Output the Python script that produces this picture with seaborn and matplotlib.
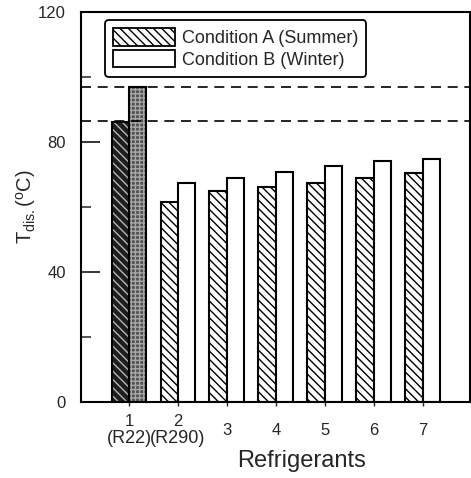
import matplotlib
matplotlib.use("Agg")
import matplotlib.pyplot as plt
import matplotlib.transforms as mtransforms
import seaborn as sns
import pandas as pd
from matplotlib.patches import Patch, Rectangle
from matplotlib.transforms import ScaledTranslation
from matplotlib.ticker import MultipleLocator

# ---- data ----
refrigerants = ["1", "2", "3", "4", "5", "6", "7"]
summer = [86.2, 61.6, 65.0, 66.0, 67.3, 69.0, 70.3]   # Condition A
winter = [96.9, 67.3, 68.9, 70.8, 72.6, 74.2, 74.8]   # Condition B
series_names = ["Condition A (Summer)", "Condition B (Winter)"]
ref_lines = [97.0, 86.3]
sub_labels = ["(R22)", "(R290)"]

df = pd.DataFrame({
    "Refrigerant": refrigerants * 2,
    "Tdis": summer + winter,
    "Condition": [series_names[0]] * len(refrigerants) + [series_names[1]] * len(refrigerants),
})

sns.set_theme(style="white")
plt.rcParams["font.family"] = ["Liberation Sans", "DejaVu Sans"]
plt.rcParams["hatch.linewidth"] = 1.0
plt.rcParams["mathtext.fontset"] = "custom"
plt.rcParams["mathtext.rm"] = "Liberation Sans"

fig = plt.figure(figsize=(4.71, 4.78), dpi=100)
ax = fig.add_axes([0.172, 0.159, 0.826, 0.816])

sns.barplot(data=df, x="Refrigerant", y="Tdis", hue="Condition",
            order=refrigerants, hue_order=series_names,
            width=0.71, gap=0, ax=ax, legend=False,
            edgecolor="black", linewidth=1.5)

cA, cB = ax.containers[0], ax.containers[1]
for p in cA.patches:
    p.set_facecolor("white")
    p.set_hatch("\\\\\\\\")
    p.set_edgecolor("black")
for p in cB.patches:
    p.set_facecolor("white")
    p.set_edgecolor("black")

# first group (reference refrigerant R22) drawn dark
for p, fc, hc, h in [(cA.patches[0], "#1e1e1e", "#b5b5b5", "\\\\\\\\"),
                     (cB.patches[0], "#505050", "#a8a8a8", "++++")]:
    p.set_facecolor(fc)
    p.set_edgecolor(hc)
    p.set_hatch(h)
    p.set_linewidth(0)
    ax.add_patch(Rectangle(p.get_xy(), p.get_width(), p.get_height(),
                           fill=False, edgecolor="black", linewidth=1.5, zorder=p.get_zorder() + 0.1))

for yv in ref_lines:
    ax.axhline(yv, color="black", linestyle=(0, (6, 4)), linewidth=1.2, zorder=1)

ax.set_xlim(-0.98, 6.97)
ax.set_ylim(0, 120)
ax.yaxis.set_major_locator(MultipleLocator(40))
ax.yaxis.set_minor_locator(MultipleLocator(20))
ax.tick_params(axis="y", which="major", direction="in", length=14, width=1.3,
               labelsize=12, pad=11, left=True)
ax.tick_params(axis="y", which="minor", direction="in", length=7, width=1.1, left=True)
ax.tick_params(axis="x", which="major", direction="out", length=3, width=1,
               labelsize=12, pad=6, bottom=True)

for s in ax.spines.values():
    s.set_color("black")
    s.set_linewidth(1.5)

ax.set_xticks(range(len(refrigerants)))
ax.set_xticklabels(refrigerants)
for lbl in ax.get_xticklabels()[2:]:
    lbl.set_transform(lbl.get_transform() + ScaledTranslation(0, -9 / 100, fig.dpi_scale_trans))

trans = mtransforms.blended_transform_factory(ax.transData, ax.transAxes)
for i, s in enumerate(sub_labels):
    ax.text(i, -0.093, s, transform=trans, ha="center", va="center", fontsize=13)

ax.set_xlabel("Refrigerants", fontsize=17)
ax.xaxis.set_label_coords(0.568, -0.122)
ax.set_ylabel(r"T$_{\rm dis.}$($^{\rm o}$C)", fontsize=14.5)
ax.yaxis.set_label_coords(-0.11, 0.50)

handles = [Patch(facecolor="white", edgecolor="black", hatch="\\\\\\\\", linewidth=1.3),
           Patch(facecolor="white", edgecolor="black", linewidth=1.3)]
leg = ax.legend(handles, series_names, loc="upper left", bbox_to_anchor=(0.062, 0.979),
                borderaxespad=0, fontsize=13, frameon=True, fancybox=True,
                handlelength=3.4, handleheight=1.1, handletextpad=0.4,
                labelspacing=0.15, borderpad=0.45)
fr = leg.get_frame()
fr.set_edgecolor("black")
fr.set_linewidth(1.3)
fr.set_alpha(1)

fig.savefig("out.png", dpi=100)
